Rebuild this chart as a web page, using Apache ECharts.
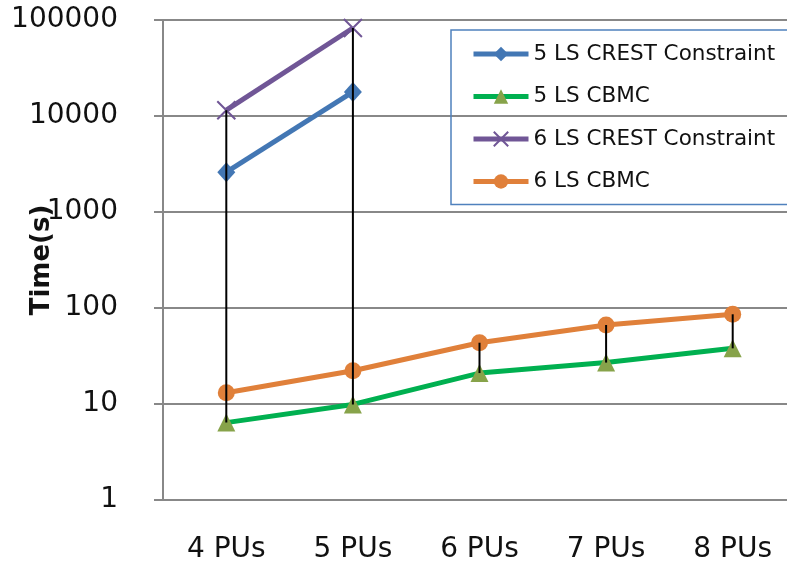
<!DOCTYPE html>
<html>
<head>
<meta charset="utf-8">
<script src="https://cdn.jsdelivr.net/npm/echarts@6/dist/echarts.min.js"></script>
<style>
html,body{margin:0;padding:0;background:#fff;}
#chart{width:787px;height:563px;}
</style>
</head>
<body>
<div id="chart"></div>
<script>
// categories and values
var categories = ['4 PUs', '5 PUs', '6 PUs', '7 PUs', '8 PUs'];
var crest5 = [2600, 17800, null, null, null];
var cbmc5 = [6.4, 9.9, 21, 27, 38];
var crest6 = [11500, 82500, null, null, null];
var cbmc6 = [13.1, 22.2, 43.5, 66.5, 86];
var yTicks = [1, 10, 100, 1000, 10000, 100000];

//high-low lines: from lowest to highest value at each category
function highLow(){
	var out = [];
	for (var i = 0; i < categories.length; i++) {
		var vals = [crest5[i], cbmc5[i], crest6[i], cbmc6[i]].filter(function(v){ return v != null; });
		out.push([i, Math.min.apply(null, vals), Math.max.apply(null, vals)]);
	}
	return out;
}

var myChart = echarts.init(document.getElementById('chart'));
var font = '"DejaVu Sans", sans-serif';
var option = {
	animation: false,
	textStyle: { fontFamily: font },
	grid: { left: 163, top: 20, width: 633, height: 480, containLabel: false, outerBoundsMode: 'none' },
	legend: {
		orient: 'vertical',
		left: 451,
		top: 30,
		padding: [13, 40, 12, 20],
		itemGap: 20.5,
		itemWidth: 55,
		itemHeight: 18,
		borderColor: '#4f81bd',
		borderWidth: 1.5,
		textStyle: { fontSize: 21.5, color: '#111', fontFamily: font },
		data: [
			{ name: '5 LS CREST Constraint', lineStyle: { width: 5 } },
			{ name: '5 LS CBMC', lineStyle: { width: 5 } },
			{ name: '6 LS CREST Constraint', lineStyle: { width: 5 } },
			{ name: '6 LS CBMC', lineStyle: { width: 5 } }
		]
	},
	xAxis: {
		type: 'category',
		data: categories,
		boundaryGap: true,
		axisLine: { show: true, lineStyle: { color: '#888', width: 2 } },
		axisTick: { show: false },
		axisLabel: { fontSize: 28, color: '#111', margin: 36 }
	},
	yAxis: {
		type: 'log',
		logBase: 10,
		min: 1,
		max: 100000,
		name: 'Time(s)',
		nameLocation: 'middle',
		nameGap: 108,
		nameMoveOverlap: false,
		nameTextStyle: { fontSize: 26, fontWeight: 'bold', color: '#111' },
		axisLine: { show: true, lineStyle: { color: '#888', width: 2 } },
		axisTick: { show: true, inside: false, length: 9, lineStyle: { color: '#888', width: 2 } },
		axisLabel: { fontSize: 28, color: '#111', margin: 45,
			formatter: function(v){ return yTicks.indexOf(Math.round(v)) >= 0 ? String(Math.round(v)) : ''; } },
		splitLine: { show: true, lineStyle: { color: '#888', width: 2 } }
	},
	series: [
		{
			name: 'hl',
			type: 'custom',
			z: 5,
			silent: true,
			data: highLow(),
			renderItem: function(params, api){
				var lo = api.coord([api.value(0), api.value(1)]);
				var hi = api.coord([api.value(0), api.value(2)]);
				return { type: 'line', shape: { x1: lo[0], y1: lo[1], x2: hi[0], y2: hi[1] },
					style: { stroke: '#000', lineWidth: 2 } };
			}
		},
		{
			name: '5 LS CREST Constraint',
			type: 'line',
			data: crest5,
			symbol: 'diamond',
			symbolSize: [18, 20],
			lineStyle: { color: '#4377b4', width: 5 },
			itemStyle: { color: '#4377b4' }
		},
		{
			name: '5 LS CBMC',
			type: 'line',
			data: cbmc5,
			symbol: 'triangle',
			symbolSize: [18, 18],
			lineStyle: { color: '#00b050', width: 5 },
			itemStyle: { color: '#87a34a' }
		},
		{
			name: '6 LS CREST Constraint',
			type: 'line',
			data: crest6,
			symbol: 'path://M0,0L10,10M10,0L0,10',
			symbolSize: 18,
			lineStyle: { color: '#705696', width: 5 },
			itemStyle: { color: 'rgba(0,0,0,0)', borderColor: '#705696', borderWidth: 2 }
		},
		{
			name: '6 LS CBMC',
			type: 'line',
			data: cbmc6,
			symbol: 'circle',
			symbolSize: 17,
			lineStyle: { color: '#e0803a', width: 5 },
			itemStyle: { color: '#e0803a' }
		}
	]
};
if (option && typeof option === "object") {
	myChart.setOption(option, true);
}
</script>
</body>
</html>
